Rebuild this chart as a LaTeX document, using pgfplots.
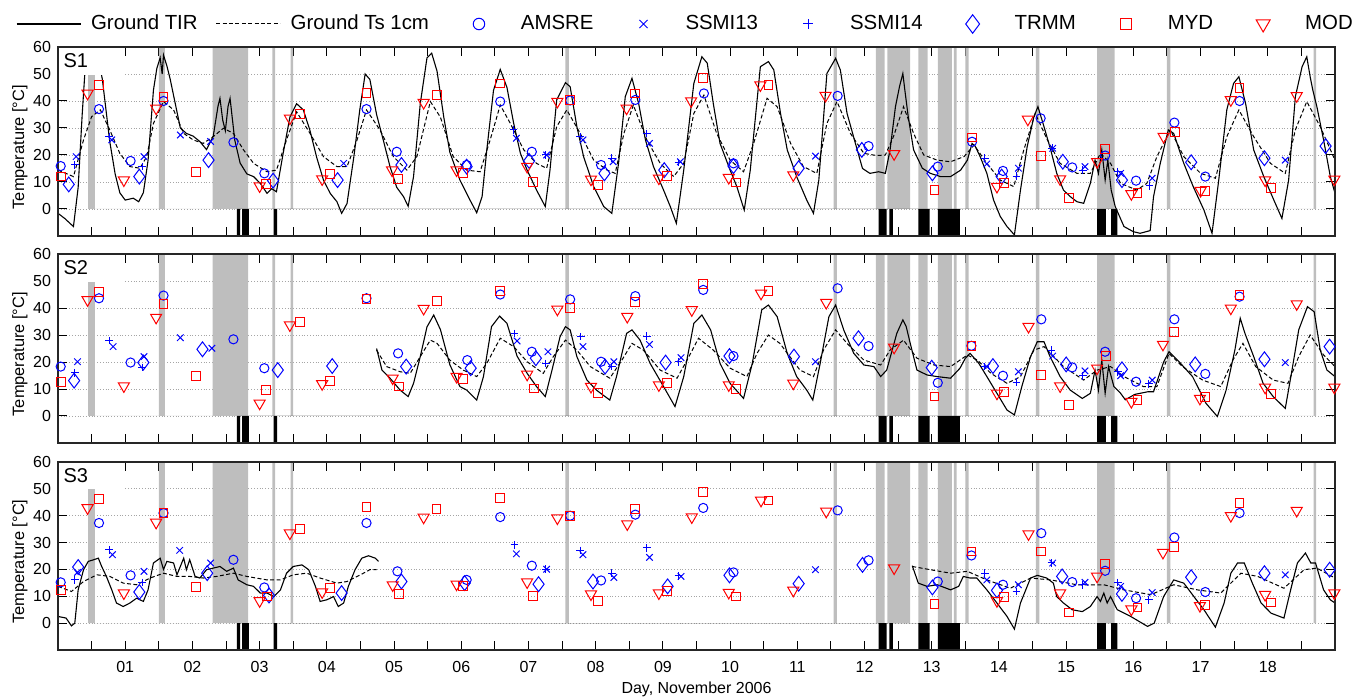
\documentclass[border=0pt]{standalone}
\usepackage{fontspec}
\setmainfont{Liberation Sans}
\usepackage{pgfplots}
\pgfplotsset{compat=1.18}
\definecolor{band}{RGB}{190,190,190}
\definecolor{gridc}{RGB}{165,165,165}

\pgfplotsset{
  panel/.style={
    scale only axis, width=638.5pt, height=94.5pt,
    xmin=0, xmax=19, ymin=-10, ymax=60,
    xtick={1,...,18}, minor xtick={0.5,1.5,...,18.5},
    xticklabels={},
    ytick={0,10,...,60},
    tick align=inside, major tick length=4.5pt, minor tick length=4.5pt,
    ymajorgrids, grid style={densely dotted, gridc, line width=0.4pt},
    tick style={black, line width=0.5pt},
    axis line style={line width=0.6pt, black!85},
    tick label style={font=\fontsize{8}{9}\selectfont},
    xticklabel style={yshift=-2pt},
    /pgf/number format/assume math mode=true,
    ylabel={Temperature [°C]},
    every axis y label/.style={at={(axis description cs:-0.0298,0.47)}, rotate=90, anchor=center, font=\fontsize{8.2}{9}\selectfont},
  },
  tir/.style={black, line width=0.55pt, no marks},
  ts/.style={black, line width=0.5pt, no marks, dash pattern=on 2pt off 1.2pt},
  amsre/.style={only marks, blue, mark=o, mark size=2.3pt, mark options={line width=0.5pt, solid}},
  ssmi13/.style={only marks, blue, mark=x, mark size=2.3pt, mark options={line width=0.5pt, solid}},
  ssmi14/.style={only marks, blue, mark=+, mark size=1.9pt, mark options={line width=0.5pt, solid}},
  trmm/.style={only marks, blue, mark=diamond, mark size=3.7pt, mark options={line width=0.5pt, solid}},
  myd/.style={only marks, red, mark=square, mark size=2.2pt, mark options={line width=0.5pt, solid}},
  mod/.style={only marks, red, mark=triangle, mark size=3.2pt, mark options={line width=0.5pt, solid, rotate=180}},
  linelegend/.style={legend image code/.code={\draw[##1] (0pt,0pt) -- (32pt,0pt);}},
  marklegend/.style={legend image code/.code={\path[draw=none, fill=none] (0pt,0pt) -- (32pt,0pt); \draw[##1, every mark/.append style={scale=1.25}] plot coordinates {(16pt,0pt)};}},
}

% rain / event bands, same in all panels
\newcommand{\bands}{%
  \addplot[fill=band, draw=none, forget plot] coordinates {
    (0.45,0)(0.45,60)(0.55,60)(0.55,0) (1.50,0)(1.50,60)(1.59,60)(1.59,0)
    (2.30,0)(2.30,60)(2.83,60)(2.83,0) (3.19,0)(3.19,60)(3.23,60)(3.23,0)
    (3.46,0)(3.46,60)(3.50,60)(3.50,0) (7.55,0)(7.55,60)(7.60,60)(7.60,0)
    (11.54,0)(11.54,60)(11.59,60)(11.59,0) (12.17,0)(12.17,60)(12.30,60)(12.30,0)
    (12.34,0)(12.34,60)(12.68,60)(12.68,0) (12.80,0)(12.80,60)(12.94,60)(12.94,0)
    (13.09,0)(13.09,60)(13.30,60)(13.30,0) (13.33,0)(13.33,60)(13.37,60)(13.37,0)
    (13.50,0)(13.50,60)(13.55,60)(13.55,0) (14.55,0)(14.55,60)(14.60,60)(14.60,0)
    (15.46,0)(15.46,60)(15.72,60)(15.72,0) (16.50,0)(16.50,60)(16.55,60)(16.55,0)
    (18.68,0)(18.68,60)(18.72,60)(18.72,0)};
  \addplot[fill=black, draw=none, forget plot] coordinates {
    (2.66,0)(2.66,-10)(2.71,-10)(2.71,0) (2.74,0)(2.74,-10)(2.84,-10)(2.84,0)
    (3.21,0)(3.21,-10)(3.26,-10)(3.26,0) (12.21,0)(12.21,-10)(12.33,-10)(12.33,0)
    (12.37,0)(12.37,-10)(12.42,-10)(12.42,0) (12.80,0)(12.80,-10)(12.97,-10)(12.97,0)
    (13.09,0)(13.09,-10)(13.42,-10)(13.42,0) (15.46,0)(15.46,-10)(15.59,-10)(15.59,0)
    (15.67,0)(15.67,-10)(15.76,-10)(15.76,0)};
}
\newcommand{\panellabel}[1]{%
  \fill[white] (axis cs:0.02,49.8) rectangle (axis cs:1.0,59.8);
  \draw[line width=0.6pt, black!85] (rel axis cs:0,0) rectangle (rel axis cs:1,1);
  \node[anchor=north west, inner sep=0pt, font=\fontsize{10}{12}\selectfont] at (rel axis cs:0.004,0.965) {#1};
}

\begin{document}
\begin{tikzpicture}
\path[use as bounding box] (0,0) rectangle (679pt,-348pt);

% ---------------- S1 ----------------
\begin{axis}[panel, at={(29pt,-23.5pt)}, anchor=north west,
  legend style={draw=none, fill=none, inner sep=0pt, outer sep=0pt,
    at={(-0.0329,1.1217)}, anchor=west, legend columns=8,
    font=\fontsize{10.2}{12}\selectfont, nodes={inner sep=0pt},
    /tikz/every odd column/.append style={column sep=5pt},
    /tikz/every even column/.append style={column sep=9pt}},
  legend cell align=left]
\addlegendimage{tir, linelegend}\addlegendentry{Ground TIR}
\addlegendimage{ts, linelegend}\addlegendentry{Ground Ts 1cm}
\addlegendimage{amsre, marklegend}\addlegendentry{AMSRE}
\addlegendimage{ssmi13, marklegend}\addlegendentry{SSMI13}
\addlegendimage{ssmi14, marklegend}\addlegendentry{SSMI14}
\addlegendimage{trmm, marklegend}\addlegendentry{TRMM}
\addlegendimage{myd, marklegend}\addlegendentry{MYD}
\addlegendimage{mod, marklegend}\addlegendentry{MOD}
\bands
\addplot[ts, forget plot] coordinates {(0.00,14.4)(0.23,12)(0.38,25.6)(0.50,34.2)(0.63,36.7)(0.77,29.3)(0.92,20.6)(1.07,15.7)(1.22,15.1)(1.32,19.4)(1.42,31.7)(1.57,39.8)(1.72,36.7)(1.87,28)(2.01,25.6)(2.16,24.3)(2.31,26.8)(2.46,29.9)(2.61,28)(2.76,21.9)(2.91,16.9)(3.11,13.8)(3.25,14.4)(3.40,25.6)(3.55,36)(3.75,28)(3.95,19.4)(4.15,15.7)(4.30,15.7)(4.45,25.6)(4.59,36.7)(4.79,29.3)(4.99,19.4)(5.19,14.4)(5.34,19.4)(5.54,39.8)(5.69,34)(5.88,19.4)(6.08,14.4)(6.28,13.8)(6.43,25.6)(6.58,38.5)(6.73,31.7)(6.93,21.9)(7.12,16.9)(7.27,15.1)(7.42,30.5)(7.57,36.7)(7.77,28)(7.97,18.1)(8.17,14.4)(8.29,13.2)(8.42,28)(8.56,38.5)(8.76,25.6)(8.96,16.9)(9.16,12)(9.31,16.9)(9.46,35.4)(9.61,42.2)(9.80,28)(10.00,18.1)(10.20,13.8)(10.35,24.3)(10.55,41)(10.70,37.9)(10.90,24.3)(11.09,15.7)(11.29,13.2)(11.44,31.7)(11.59,39.8)(11.79,28)(11.99,20.6)(12.18,19.8)(12.31,20)(12.43,26.8)(12.58,37.9)(12.73,28)(12.88,20)(13.08,18.1)(13.28,17.5)(13.48,19.4)(13.63,23.7)(13.82,16.9)(14.02,10.7)(14.22,8.3)(14.37,21.9)(14.54,35.4)(14.72,25.6)(14.91,16.9)(15.16,13.2)(15.36,13.2)(15.51,20.6)(15.66,16.9)(15.81,9.5)(16.05,7)(16.20,9.5)(16.35,19.4)(16.55,29.3)(16.75,19.4)(17.00,13.2)(17.22,11.4)(17.39,26.8)(17.57,36.7)(17.79,26.8)(18.04,16.9)(18.26,13.2)(18.41,29.3)(18.58,39.8)(18.78,30.5)(19.00,18.1)};
\addplot[tir, forget plot] coordinates {(0.00,-1.6)(0.10,-3.5)(0.23,-6.5)(0.30,8)(0.36,35)(0.40,50.5)(0.47,55)(0.55,56)(0.63,52)(0.66,48)(0.77,25)(0.85,13)(0.92,6)(1.00,3.3)(1.12,4)(1.20,2.7)(1.27,6)(1.34,18)(1.42,44)(1.47,52)(1.52,56)(1.55,50)(1.57,57)(1.62,53)(1.67,48)(1.72,42)(1.82,30)(1.91,28)(2.01,27)(2.11,25)(2.21,22)(2.31,27)(2.38,38)(2.41,41)(2.45,33)(2.49,29)(2.53,38)(2.56,41)(2.63,25.5)(2.71,17)(2.81,13)(2.91,12)(3.01,9.5)(3.11,5.8)(3.18,7.5)(3.25,6.4)(3.35,20.6)(3.45,34)(3.55,39)(3.65,36.7)(3.75,29)(3.85,19)(3.95,10.7)(4.05,5.8)(4.15,2.7)(4.22,-1.6)(4.30,2)(4.40,19)(4.49,36.7)(4.57,50)(4.64,48)(4.74,35)(4.84,25.5)(4.94,15.7)(5.04,8)(5.14,4.6)(5.21,1)(5.29,12)(5.39,39)(5.49,56)(5.56,57.7)(5.64,51)(5.74,34)(5.83,21)(5.98,10.7)(6.13,3.3)(6.23,-1.4)(6.31,4.6)(6.38,21.9)(6.48,44)(6.58,51.7)(6.68,45)(6.78,31.7)(6.88,20.6)(6.98,14.4)(7.12,7)(7.25,0.9)(7.32,14.4)(7.42,40.4)(7.55,46.8)(7.62,45.3)(7.72,30.5)(7.82,19.4)(7.97,8.3)(8.12,0.9)(8.24,-1.6)(8.34,16.9)(8.44,41.6)(8.54,48.4)(8.64,39)(8.74,25.6)(8.86,15.7)(9.01,7)(9.11,0.9)(9.20,-5.3)(9.31,14.4)(9.46,46.5)(9.58,56.4)(9.66,54)(9.75,39)(9.85,24.3)(10.00,14.4)(10.10,8.3)(10.21,-0.4)(10.30,14.4)(10.45,52.7)(10.57,54.6)(10.65,51.5)(10.75,35.4)(10.85,21.9)(10.99,12)(11.14,3.3)(11.24,-1.6)(11.32,10.7)(11.44,50.2)(11.57,55.8)(11.64,51.5)(11.74,35.4)(11.89,22)(11.97,15)(12.08,13.2)(12.21,13.8)(12.31,13.2)(12.38,21.9)(12.46,37.9)(12.52,45.3)(12.57,50.2)(12.60,44)(12.65,34.2)(12.73,21.9)(12.86,15.1)(12.98,13.2)(13.13,12)(13.28,12)(13.43,14.4)(13.53,18.1)(13.60,24.3)(13.65,23.1)(13.72,19.4)(13.82,13.2)(13.92,3.3)(14.02,-2.8)(14.12,-6.5)(14.23,-9.6)(14.32,7)(14.42,23.1)(14.52,34.2)(14.58,37.9)(14.67,30.5)(14.77,21.9)(14.86,13.2)(14.96,7)(15.06,4.6)(15.16,2.7)(15.26,2.1)(15.36,9.5)(15.43,18.1)(15.48,13.2)(15.53,21.9)(15.58,10.7)(15.62,18.1)(15.67,7)(15.73,0.9)(15.86,-6.5)(16.00,-8.4)(16.10,-9)(16.25,-8)(16.30,4.6)(16.40,16.9)(16.52,29.3)(16.60,28)(16.75,16.9)(16.89,8.3)(17.05,-0.4)(17.17,-9)(17.27,10.7)(17.39,36.7)(17.49,46.5)(17.57,49)(17.67,39)(17.79,21.9)(17.94,12)(18.09,3.3)(18.21,-3.5)(18.31,10.7)(18.41,41.6)(18.51,52.7)(18.58,56.4)(18.63,49)(18.67,44)(18.73,37.9)(18.83,25.6)(18.93,12)(19.00,5.8)};
\addplot[amsre, forget plot] coordinates {(0.04,15.9)(0.61,37)(1.08,17.8)(1.57,40)(2.61,24.7)(3.07,13.2)(4.59,37)(5.04,21.2)(6.08,16.3)(6.58,39.8)(7.05,21.2)(7.62,40.2)(8.08,16.3)(8.59,40.4)(9.61,42.8)(10.05,16.9)(11.60,41.9)(12.06,23.3)(13.09,15.7)(13.60,24.9)(14.06,14.1)(14.62,33.6)(15.09,15.4)(15.58,19.8)(16.04,10.5)(16.61,32)(17.07,12)(17.58,40)};
\addplot[ssmi13, forget plot] coordinates {(0.27,19.4)(0.80,25.6)(1.28,19.4)(1.82,27.4)(2.27,25)(4.25,16.9)(6.82,26.2)(7.27,20)(7.81,25.6)(8.26,17.5)(8.80,24.3)(9.26,17.5)(11.27,19.6)(13.82,16.7)(14.29,15.1)(14.80,22.5)(15.28,15.7)(15.81,13.2)(16.28,11.4)(18.26,18.1)};
\addplot[ssmi14, forget plot] coordinates {(0.25,16.3)(0.76,26.8)(1.25,15.7)(6.78,29.3)(7.26,20)(7.77,26.8)(8.24,18.8)(8.76,28)(9.23,17.2)(13.79,18.8)(14.26,12.2)(14.79,22.5)(15.25,14.4)(15.77,13.8)(16.24,8.6)};
\addplot[trmm, forget plot] coordinates {(0.16,9.1)(1.21,12)(2.24,18.1)(3.20,10.5)(4.16,10.7)(5.11,16.3)(6.08,15.7)(7.01,17.8)(8.13,13.2)(9.02,14.4)(10.05,15.9)(11.02,15.1)(11.96,21.9)(13.01,13.2)(14.04,12)(14.95,17.5)(15.83,10.7)(16.86,17.3)(17.95,18.8)(18.86,23.3)};
\addplot[myd, forget plot] coordinates {(0.05,12)(0.61,45.9)(1.57,41.4)(2.05,13.8)(3.09,9.3)(3.60,35.1)(4.05,13)(4.59,43.1)(5.06,11.1)(5.64,42.2)(6.03,13.2)(6.58,46.5)(7.07,10.1)(7.62,40.4)(8.03,8.9)(8.59,42.8)(9.06,12.3)(9.60,48.6)(10.09,9.8)(10.57,45.9)(13.04,7)(13.60,26.5)(14.07,9.5)(14.63,19.6)(15.04,4)(15.58,22.2)(16.06,5.8)(16.62,28.6)(17.07,6.8)(17.58,44.7)(18.05,7.9)};
\addplot[mod, forget plot] coordinates {(0.44,42.8)(0.98,10.7)(1.46,37.3)(3.00,8.5)(3.45,33.6)(3.93,11.1)(4.97,14.4)(5.44,39.4)(5.93,14.4)(6.98,15.7)(7.43,39.8)(7.93,11)(8.46,37.3)(8.94,11.4)(9.42,40)(9.98,11.6)(10.45,45.9)(10.94,12.6)(11.42,42)(12.44,20.4)(13.97,8.3)(14.43,33.2)(14.91,11.1)(15.46,17.5)(15.97,5.6)(16.45,26.8)(17.00,6.8)(17.45,40.4)(17.96,10.7)(18.43,41.9)(18.99,11)};
\panellabel{S1}
\end{axis}

% ---------------- S2 ----------------
\begin{axis}[panel, at={(29pt,-127pt)}, anchor=north west]
\bands
\addplot[ts] coordinates {(4.74,24.4)(4.89,18.3)(5.09,16.4)(5.24,15.8)(5.39,22)(5.54,28.1)(5.64,26.9)(5.83,20.7)(6.03,17)(6.23,14.6)(6.38,19.5)(6.58,28.8)(6.78,25.7)(6.98,20.1)(7.22,15.8)(7.37,22)(7.55,28.1)(7.72,24.4)(7.92,18.3)(8.21,14)(8.39,20.7)(8.54,26.9)(8.71,24.4)(8.96,17)(9.21,14)(9.36,20.7)(9.53,28.8)(9.75,24.4)(10.00,17.7)(10.25,14.6)(10.40,23.2)(10.57,30)(10.74,26.9)(11.04,17)(11.24,14.6)(11.39,24.4)(11.57,31.9)(11.74,26.9)(11.99,20.7)(12.24,18.9)(12.38,24.4)(12.58,28.1)(12.78,21.4)(13.03,18.9)(13.28,18.3)(13.53,22.6)(13.68,20.7)(13.88,15.8)(14.12,12.1)(14.32,14.6)(14.52,24.4)(14.67,25.7)(14.96,18.3)(15.26,13.3)(15.46,17)(15.66,18.3)(15.86,14.6)(16.15,10.9)(16.35,10.9)(16.53,23.2)(16.73,18.3)(17.03,13.3)(17.30,10.9)(17.48,20.7)(17.63,26.9)(17.82,18.3)(18.08,13.3)(18.30,12.1)(18.46,22)(18.63,30)(18.83,22.6)(19.00,18.3)};
\addplot[tir] coordinates {(4.74,25)(4.82,17)(4.94,14)(5.09,9.6)(5.21,7.2)(5.29,12.1)(5.39,22)(5.49,33)(5.59,37.4)(5.69,32)(5.83,19)(5.98,10.9)(6.08,9.6)(6.23,5.9)(6.33,14.6)(6.45,33.1)(6.57,37)(6.68,34.3)(6.83,22.2)(6.98,15.8)(7.12,10.9)(7.25,7.2)(7.35,17)(7.47,29.4)(7.55,33.1)(7.62,31.9)(7.72,22)(7.87,13.3)(8.01,9.6)(8.21,5.9)(8.31,14.6)(8.46,30.6)(8.54,31.9)(8.66,28.1)(8.81,19.5)(9.01,10.9)(9.18,3.5)(9.31,14.6)(9.46,34.3)(9.58,37.4)(9.71,31.9)(9.85,19.5)(10.00,12.1)(10.20,6.5)(10.33,19.5)(10.47,39.3)(10.57,41.1)(10.70,36.8)(10.85,23.2)(10.99,14.6)(11.14,9.6)(11.23,5.9)(11.34,19.5)(11.47,36.8)(11.57,41.1)(11.69,31.9)(11.84,23.2)(11.99,18.9)(12.14,18.3)(12.24,14.6)(12.33,17)(12.48,30.6)(12.57,35.6)(12.62,33.1)(12.68,26.9)(12.78,17)(12.93,15.2)(13.08,14.6)(13.28,14)(13.42,17.7)(13.50,21.4)(13.57,23.2)(13.70,19.5)(13.82,14.6)(13.97,8.4)(14.12,2.2)(14.23,0.4)(14.34,10.9)(14.47,22)(14.57,27.5)(14.67,27.5)(14.76,22)(14.91,14.6)(15.06,9.6)(15.24,6.5)(15.36,8.4)(15.43,17)(15.48,9.6)(15.53,20.7)(15.58,8.4)(15.63,18.3)(15.71,10.9)(15.81,8.4)(15.88,6)(16.02,8)(16.22,9)(16.30,9)(16.45,20)(16.53,23.8)(16.68,20.1)(16.88,14.6)(17.08,4.7)(17.25,-0.2)(17.38,9.6)(17.51,24.4)(17.59,36.2)(17.66,30.6)(17.79,22)(17.93,12.1)(18.08,7.2)(18.26,2.8)(18.36,17)(18.46,31.9)(18.59,40.5)(18.69,38.6)(18.78,24.4)(18.88,17)(19.00,14.6)};
\addplot[amsre] coordinates {(0.04,18.3)(0.61,43.6)(1.08,19.8)(1.57,44.6)(2.61,28.4)(3.07,17.7)(4.59,43.6)(5.06,23.2)(6.09,20.7)(6.58,45)(7.05,23.8)(7.62,43.2)(8.08,20.1)(8.59,44.4)(9.60,46.7)(10.05,22.2)(11.60,47.3)(12.06,25.9)(13.09,12.3)(13.59,26)(14.06,14.9)(14.63,35.8)(15.09,18)(15.58,23.8)(16.04,12.7)(16.61,35.8)(17.07,15.6)(17.58,44.2)};
\addplot[ssmi13] coordinates {(0.29,20.1)(0.82,25.7)(1.28,22)(1.82,29)(2.29,25.1)(6.83,27.8)(7.29,23.8)(7.81,25.7)(8.27,20.1)(8.80,26.5)(9.27,21.6)(11.27,20.1)(13.82,18.3)(14.29,16.4)(14.80,22.2)(15.28,16.7)(15.81,14.9)(16.28,13.3)(18.26,19.8)};
\addplot[ssmi14] coordinates {(0.25,16)(0.76,27.9)(1.25,18)(6.79,30.6)(7.26,19.5)(7.78,29.4)(8.24,18.3)(8.76,29.6)(9.23,20.1)(13.79,18.3)(14.26,12.5)(14.78,24.4)(15.25,14.9)(15.77,16.4)(16.23,11.9)};
\addplot[trmm] coordinates {(0.24,13.1)(1.27,19.8)(2.15,24.7)(3.27,17)(4.08,18.5)(5.18,18.3)(6.14,17.7)(7.11,21.4)(8.14,18.3)(9.04,19.8)(9.99,22.2)(10.95,22)(11.91,28.8)(13.00,17.9)(13.91,18.5)(15.00,19.1)(15.83,17.3)(16.92,19.1)(17.95,21)(18.92,25.7)};
\addplot[myd] coordinates {(0.05,12.5)(0.61,46)(1.57,41.5)(2.05,14.9)(3.09,9.6)(3.60,34.7)(4.05,13)(4.59,43.2)(5.07,10.9)(5.64,42.6)(6.03,13.6)(6.58,46.3)(7.08,10.2)(7.62,40.1)(8.03,8.6)(8.58,42.3)(9.06,12.1)(9.60,48.8)(10.09,9.9)(10.57,46.3)(13.04,7.2)(13.59,26)(14.07,9)(14.63,15.2)(15.04,4.1)(15.59,22.2)(16.06,5.9)(16.61,31)(17.07,6.9)(17.58,44.8)(18.05,8.1)};
\addplot[mod] coordinates {(0.44,43)(0.98,11.1)(1.46,36.5)(3.00,4.7)(3.45,33.7)(3.93,11.9)(4.98,14)(5.44,39.8)(5.93,14.6)(6.98,15.4)(7.43,39.5)(7.93,10.9)(8.47,36.8)(8.94,11.5)(9.43,39.3)(9.98,11.5)(10.46,45.4)(10.94,12.1)(11.43,42)(12.44,25.4)(13.97,8.4)(14.44,33.1)(14.91,11.1)(15.46,17.7)(15.97,5.3)(16.44,26.5)(16.99,6.5)(17.45,39.9)(17.96,10.6)(18.43,41.5)(18.99,10.6)};
\panellabel{S2}
\end{axis}

% ---------------- S3 ----------------
\begin{axis}[panel, at={(29pt,-231pt)}, anchor=north west, height=94pt,
  xticklabels={01,02,03,04,05,06,07,08,09,10,11,12,13,14,15,16,17,18},
  xlabel={Day, November 2006},
  every axis x label/.style={at={(axis description cs:0.5,-0.2116)}, anchor=center, font=\fontsize{8}{9}\selectfont}]
\bands
\addplot[ts] coordinates {(0,13.7)(0.20,11.8)(0.38,15.5)(0.58,18)(0.77,17.4)(0.97,14.9)(1.17,14.3)(1.37,16.8)(1.57,18.6)(1.77,17.4)(1.96,17.4)(2.16,16.8)(2.36,17.4)(2.61,18.6)(2.81,17.4)(3.11,16.1)(3.31,16.1)(3.50,18)(3.70,18.6)(3.90,16.8)(4.15,14.9)(4.30,15.5)(4.50,18)(4.64,19.9)(4.74,19.9)};
\addplot[ts] coordinates {(12.71,21.1)(12.98,19.9)(13.28,18.6)(13.53,19.3)(13.82,16.1)(14.17,13)(14.47,16.8)(14.77,16.1)(15.16,14.3)(15.56,14.3)(15.86,12.4)(16.26,10.6)(16.60,14.3)(16.95,12.4)(17.30,11.2)(17.60,18.6)(17.85,17.4)(18.24,13)(18.54,19.9)(18.73,20.5)(19,16.8)};
\addplot[tir] coordinates {(0,2.5)(0.12,1.9)(0.20,-1)(0.25,0)(0.30,12.4)(0.38,19.9)(0.45,23)(0.53,23.6)(0.60,24.2)(0.65,21.1)(0.72,17.4)(0.80,12.4)(0.87,7.5)(0.97,6.2)(1.07,7.5)(1.17,9.3)(1.27,8.1)(1.34,12.4)(1.42,22.4)(1.52,24.2)(1.57,20)(1.62,23)(1.72,22.4)(1.77,18)(1.82,21.1)(1.87,24.2)(1.91,19.9)(1.96,23.6)(2.04,17.4)(2.11,16.8)(2.21,19.9)(2.31,20.5)(2.41,21.1)(2.51,19.3)(2.61,20.5)(2.68,16.1)(2.81,14.3)(2.91,13.7)(3.01,11.2)(3.11,11.2)(3.21,9.9)(3.31,12.4)(3.40,18.6)(3.50,21.1)(3.63,21.7)(3.73,19.9)(3.83,13.7)(3.90,8.1)(4.00,8.7)(4.10,9.9)(4.17,6.2)(4.25,7.5)(4.32,13.7)(4.42,19.9)(4.52,24.2)(4.62,25.1)(4.72,24.2)(4.77,23)};
\addplot[tir] coordinates {(12.71,21.4)(12.80,14.9)(12.93,13.7)(13.08,14.3)(13.28,12.4)(13.40,13.7)(13.47,17.4)(13.57,16.8)(13.67,16.8)(13.82,12.4)(13.97,7.5)(14.12,2.5)(14.23,-2.2)(14.32,7.5)(14.47,16.8)(14.57,17.8)(14.71,16.8)(14.81,14.9)(14.86,9.9)(14.96,7.5)(15.09,5)(15.24,4.3)(15.36,6.2)(15.46,9.9)(15.51,8.1)(15.56,11.2)(15.61,7.5)(15.66,9.9)(15.76,5)(15.96,2.5)(16.21,-1.2)(16.31,0)(16.45,9.9)(16.60,16.1)(16.75,14.9)(16.90,9.9)(17.05,5)(17.22,-1.5)(17.35,7.5)(17.45,18.6)(17.55,22.4)(17.65,22.4)(17.77,14.9)(17.90,7.5)(18.05,3.7)(18.24,1.9)(18.34,12.4)(18.44,22.4)(18.56,26.1)(18.64,22.4)(18.71,22.4)(18.83,12.4)(18.93,8.7)(19,7.5)};
\addplot[amsre] coordinates {(0.04,15.2)(0.61,37.3)(1.08,17.8)(1.57,41)(2.61,23.6)(3.07,13.3)(4.59,37.3)(5.05,19.3)(6.08,16.1)(6.58,39.5)(7.05,21.4)(7.62,40)(8.08,15.9)(8.59,40.4)(9.60,42.9)(10.05,18.9)(11.60,42)(12.06,23.4)(13.09,15.5)(13.59,25.2)(14.06,14.3)(14.63,33.5)(15.09,15.3)(15.58,19.5)(16.04,9.3)(16.61,31.9)(17.07,11.6)(17.58,41)};
\addplot[ssmi13] coordinates {(0.29,18.9)(0.81,25.5)(1.28,19.3)(1.81,27.1)(2.27,22.4)(6.82,25.8)(7.27,20.1)(7.81,25.5)(8.27,17)(8.80,24.5)(9.27,17.4)(11.27,19.9)(13.82,16.1)(14.29,14.3)(14.80,22.4)(15.28,15.2)(15.81,13.7)(16.28,11.4)(18.26,18)};
\addplot[ssmi14] coordinates {(0.25,16.1)(0.76,27.3)(1.25,15.2)(6.79,29.2)(7.26,20.1)(7.77,27.1)(8.24,18.6)(8.76,28)(9.23,17.6)(13.79,18.6)(14.26,11.8)(14.78,22.4)(15.25,14.3)(15.77,15.2)(16.23,8.7)};
\addplot[trmm] coordinates {(0.30,20.9)(1.21,11.6)(2.22,18.6)(3.14,10.3)(4.22,11.2)(5.11,15.5)(6.05,14.9)(7.15,14.5)(7.96,15.5)(9.07,13.7)(9.99,17.8)(11.02,14.7)(11.97,21.7)(13.01,13.3)(13.97,12.2)(14.94,17.4)(15.83,10.9)(16.86,17.1)(17.95,18.6)(18.92,19.9)};
\addplot[myd] coordinates {(0.05,12.2)(0.61,46.2)(1.57,41)(2.05,13.4)(3.11,9.9)(3.60,35)(4.05,13)(4.59,43.2)(5.07,10.9)(5.63,42.5)(6.03,13.7)(6.58,46.6)(7.07,10.2)(7.62,40)(8.03,8.4)(8.58,42.6)(9.06,12)(9.60,48.7)(10.09,9.9)(10.57,45.7)(13.04,7.1)(13.59,26.7)(14.07,9.6)(14.63,26.7)(15.04,4)(15.58,22)(16.06,5.8)(16.61,28.3)(17.07,6.8)(17.58,44.7)(18.05,7.7)};
\addplot[mod] coordinates {(0.44,42.9)(0.98,11.2)(1.46,37.5)(3.00,8.3)(3.45,33.5)(3.93,11.6)(4.98,14.2)(5.44,39.4)(5.93,14.5)(6.98,15.3)(7.43,39.1)(7.93,10.8)(8.47,36.9)(8.94,11.2)(9.43,39.5)(9.98,11.4)(10.46,45.7)(10.94,12.2)(11.43,41.6)(12.44,20.5)(13.97,8.3)(14.44,33.2)(14.91,11.2)(15.46,17.4)(15.97,5.2)(16.44,26.3)(16.99,6.5)(17.45,40)(17.96,10.6)(18.43,41.9)(18.99,11.2)};
\panellabel{S3}
\end{axis}
\end{tikzpicture}
\end{document}
